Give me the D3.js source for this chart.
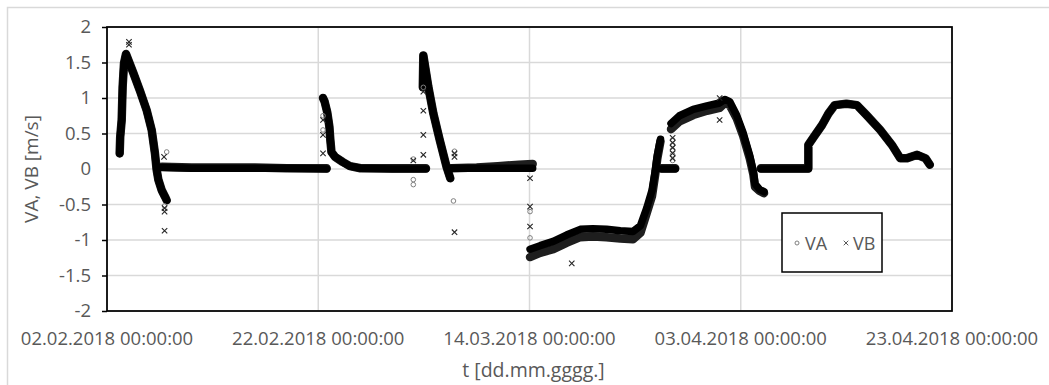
<!DOCTYPE html>
<html>
<head>
<meta charset="utf-8">
<script src="https://cdn.jsdelivr.net/npm/d3@7"></script>
<style>
  body { margin: 0; background: #fff; }
  svg text { font-family: "Open Sans", sans-serif; fill: #595959; }
</style>
</head>
<body>
<svg id="chart" width="1049" height="385"></svg>
<script>
// Axis settings
const startDate = '2018-02-02';
const endDate = '2018-04-23';
const xTickDates = ['2018-02-02', '2018-02-22', '2018-03-14', '2018-04-03', '2018-04-23'];
const yTicks = [-2, -1.5, -1, -0.5, 0, 0.5, 1, 1.5, 2];
const seriesNames = ['VA', 'VB'];

// Dense parts of the scatter, as [days after 02.02.2018, value]; null breaks a run
const vaTrace = [
  [1.2, 0.22], [1.25, 0.45], [1.39, 0.69], [1.48, 1.16], [1.61, 1.49], [1.8, 1.62], [1.9, 1.58],
  [2.5, 1.35], [3.1, 1.11], [3.75, 0.83], [4.23, 0.55], [4.54, 0.22], [4.7, -0.01], [4.86, -0.15],
  [5.18, -0.3], [5.49, -0.39], [5.65, -0.44], null,
  [5.2, 0.03], [8, 0.02], [11, 0.02], [14, 0.02], [17, 0.01], [20.8, 0.01], null,
  [20.45, 1.0], [20.6, 0.95], [20.85, 0.8], [21.05, 0.6], [21.15, 0.4], [21.25, 0.24], [21.6, 0.17],
  [22.3, 0.1], [23, 0.04], [24, 0.01], [27, 0.01], [30.2, 0.01], null,
  [29.9, 1.15], [29.95, 1.6], [30.42, 1.16], [30.9, 0.78], [31.5, 0.41], [32.15, 0.03], [32.5, -0.13], null,
  [32.6, 0.01], [35, 0.02], [37, 0.04], [39, 0.06], [40.3, 0.07], null,
  [40.05, -1.24], [41, -1.18], [42.25, -1.13], [43.5, -1.04], [44.8, -0.96], [46, -0.95], [47.3, -0.96],
  [48.6, -0.98], [49.8, -0.99], [50.5, -0.9], [51.1, -0.62], [51.6, -0.38], [51.9, -0.08], [52.1, 0.15],
  [52.4, 0.39], null,
  [52.5, 0.01], [53.8, 0.01], null,
  [53.4, 0.56], [54.2, 0.67], [55.5, 0.76], [56.8, 0.82], [58, 0.86], [58.5, 0.93], [58.95, 0.9],
  [59.6, 0.72], [60.2, 0.48], [60.85, 0.15], [61.2, -0.08], [61.35, -0.25], [61.8, -0.31], [62.2, -0.34], null,
  [61.9, 0.01], [64, 0.01], [66.4, 0.01], [66.4, 0.34], [66.9, 0.45], [67.7, 0.62], [68.3, 0.78],
  [68.9, 0.9], [70, 0.92], [71, 0.9], [71.9, 0.76], [73.2, 0.55], [74.3, 0.34], [75.1, 0.15],
  [75.7, 0.15], [76.7, 0.2], [77.5, 0.15], [77.9, 0.06]
];

const vbTrace = [
  [1.2, 0.22], [1.25, 0.45], [1.39, 0.69], [1.48, 1.16], [1.61, 1.49], [1.8, 1.62], [1.9, 1.58],
  [2.5, 1.35], [3.1, 1.11], [3.75, 0.83], [4.23, 0.55], [4.54, 0.22], [4.7, -0.01], [4.86, -0.15],
  [5.18, -0.3], [5.49, -0.39], [5.65, -0.44], null,
  [5.2, 0.02], [8, 0.01], [11, 0.01], [14, 0.01], [17, 0.01], [20.8, 0.0], null,
  [20.45, 1.0], [20.6, 0.95], [20.85, 0.8], [21.05, 0.6], [21.15, 0.4], [21.25, 0.24], [21.6, 0.17],
  [22.3, 0.1], [23, 0.04], [24, 0.01], [27, 0.0], [30.2, 0.0], null,
  [29.9, 1.15], [29.95, 1.6], [30.42, 1.16], [30.9, 0.78], [31.5, 0.41], [32.15, 0.03], [32.5, -0.13], null,
  [32.6, 0.01], [35, 0.01], [37, 0.01], [39, 0.01], [40.3, 0.01], null,
  [40.05, -1.13], [41, -1.08], [42.25, -1.02], [43.5, -0.93], [44.8, -0.85], [46, -0.84], [47.3, -0.85],
  [48.6, -0.87], [49.8, -0.88], [50.5, -0.8], [51.1, -0.55], [51.6, -0.3], [51.9, -0.03], [52.1, 0.19],
  [52.4, 0.42], null,
  [52.5, 0.0], [53.8, 0.0], null,
  [53.4, 0.64], [54.2, 0.75], [55.5, 0.84], [56.8, 0.89], [58, 0.93], [58.5, 0.98], [58.95, 0.95],
  [59.6, 0.76], [60.2, 0.52], [60.85, 0.19], [61.2, -0.04], [61.35, -0.21], [61.8, -0.29], [62.2, -0.32], null,
  [61.9, 0.0], [64, 0.0], [66.4, 0.0], [66.4, 0.34], [66.9, 0.45], [67.7, 0.62], [68.3, 0.78],
  [68.9, 0.9], [70, 0.92], [71, 0.9], [71.9, 0.76], [73.2, 0.55], [74.3, 0.34], [75.1, 0.15],
  [75.7, 0.15], [76.7, 0.2], [77.5, 0.15], [77.9, 0.06]
];

// Isolated points away from the dense runs
const vaOutliers = [
  [5.65, 0.24], [5.45, -0.52], [20.45, 0.75], [20.45, 0.55], [29.0, 0.14], [29.0, -0.15], [29.0, -0.22],
  [29.95, 1.15], [32.8, -0.45], [32.9, 0.25], [40.05, -0.6], [40.05, -0.97],
  [53.55, 0.12], [53.55, 0.2], [53.55, 0.27], [53.55, 0.34], [53.55, 0.41]
];

const vbOutliers = [
  [2.08, 1.79], [2.08, 1.75], [5.4, 0.17], [5.45, -0.55], [5.45, -0.6], [5.45, -0.87],
  [20.45, 0.69], [20.45, 0.48], [20.45, 0.22], [29.0, 0.12], [29.95, 1.09], [29.95, 0.82],
  [29.95, 0.48], [29.95, 0.2], [32.9, 0.22], [32.9, 0.17], [32.9, -0.89], [40.05, -0.13],
  [40.05, -0.53], [40.05, -0.81], [44.0, -1.33], [53.55, 0.15], [53.55, 0.22], [53.55, 0.3],
  [53.55, 0.37], [53.55, 0.44], [58.0, 0.69], [58.0, 1.0]
];

const svg = d3.select('#chart');

const plot = {left: 107, right: 952, top: 27, bottom: 311};
const dayMs = 864e5;
const toDate = (day) => new Date(Date.parse(startDate) + day * dayMs);

const xScale = d3.scaleUtc()
  .domain([new Date(startDate), new Date(endDate)])
  .range([plot.left, plot.right]);
const yScale = d3.scaleLinear()
  .domain([yTicks[0], yTicks[yTicks.length - 1]])
  .range([plot.bottom, plot.top]);

// Chart area frame (only top and left edge are inside the picture)
svg.append('path')
  .attr('d', 'M7.5,385V7.5H1049')
  .attr('fill', 'none')
  .attr('stroke', '#d9d9d9')
  .attr('stroke-width', 1.5);

// Gridlines
svg.append('g')
  .selectAll('line')
  .data(yTicks)
  .enter().append('line')
  .attr('x1', plot.left).attr('x2', plot.right)
  .attr('y1', (d) => yScale(d)).attr('y2', (d) => yScale(d))
  .attr('stroke', '#d9d9d9')
  .attr('stroke-width', 1.5);
svg.append('g')
  .selectAll('line')
  .data(xTickDates)
  .enter().append('line')
  .attr('x1', (d) => xScale(new Date(d))).attr('x2', (d) => xScale(new Date(d)))
  .attr('y1', plot.top).attr('y2', plot.bottom)
  .attr('stroke', '#d9d9d9')
  .attr('stroke-width', 1.5);

// Y axis
const leftAxis = d3.axisLeft(yScale)
  .tickValues(yTicks)
  .tickSize(5)
  .tickPadding(11)
  .tickFormat((d) => String(d));
const yAxisG = svg.append('g')
  .attr('transform', `translate(${plot.left},0)`)
  .call(leftAxis);
yAxisG.select('.domain').remove();
yAxisG.selectAll('line').attr('stroke', '#000').attr('stroke-width', 1.5)
  .filter((d) => d === 0).remove();
yAxisG.selectAll('text')
  .style('font-size', '18.5px')
  .style('font-family', '"Open Sans", sans-serif')
  .attr('fill', '#595959');

// X axis labels
const xFormat = d3.utcFormat('%d.%m.%Y %H:%M:%S');
svg.append('g')
  .selectAll('text')
  .data(xTickDates)
  .enter().append('text')
  .attr('x', (d) => xScale(new Date(d)))
  .attr('y', 345)
  .attr('text-anchor', 'middle')
  .style('font-size', '18.5px')
  .text((d) => xFormat(new Date(d)));

// Axis titles
svg.append('text')
  .attr('transform', `translate(38,${(plot.top + plot.bottom) / 2}) rotate(-90)`)
  .attr('text-anchor', 'middle')
  .style('font-size', '19px')
  .text('VA, VB [m/s]');
svg.append('text')
  .attr('x', (plot.left + plot.right) / 2 + 4)
  .attr('y', 377)
  .attr('text-anchor', 'middle')
  .style('font-size', '19.5px')
  .text('t [dd.mm.gggg.]');

// Dense runs of both series
const line = d3.line()
  .defined((d) => d !== null)
  .x((d) => xScale(toDate(d[0])))
  .y((d) => yScale(d[1]));

svg.append('path')
  .datum(vaTrace)
  .attr('d', line)
  .attr('fill', 'none')
  .attr('stroke', '#1e1e1e')
  .attr('stroke-width', 8.5)
  .attr('stroke-linecap', 'round')
  .attr('stroke-linejoin', 'round');
svg.append('path')
  .datum(vbTrace)
  .attr('d', line)
  .attr('fill', 'none')
  .attr('stroke', '#000')
  .attr('stroke-width', 7.5)
  .attr('stroke-linecap', 'round')
  .attr('stroke-linejoin', 'round');

// Isolated markers
svg.append('g')
  .selectAll('circle')
  .data(vaOutliers)
  .enter().append('circle')
  .attr('cx', (d) => xScale(toDate(d[0])))
  .attr('cy', (d) => yScale(d[1]))
  .attr('r', 2.3)
  .attr('fill', 'none')
  .attr('stroke', '#808080')
  .attr('stroke-width', 1);

const crossPath = 'M-2.7,-2.7L2.7,2.7M-2.7,2.7L2.7,-2.7';
svg.append('g')
  .selectAll('path')
  .data(vbOutliers)
  .enter().append('path')
  .attr('transform', (d) => `translate(${xScale(toDate(d[0]))},${yScale(d[1])})`)
  .attr('d', crossPath)
  .attr('fill', 'none')
  .attr('stroke', '#262626')
  .attr('stroke-width', 1.1);

// Plot area border
svg.append('rect')
  .attr('x', plot.left).attr('y', plot.top)
  .attr('width', plot.right - plot.left).attr('height', plot.bottom - plot.top)
  .attr('fill', 'none')
  .attr('stroke', '#000')
  .attr('stroke-width', 1.75);

// Legend
const legend = svg.append('g').attr('transform', 'translate(782,213)');
legend.append('rect')
  .attr('width', 100).attr('height', 59)
  .attr('fill', '#fff')
  .attr('stroke', '#000')
  .attr('stroke-width', 1.5);
legend.append('circle')
  .attr('cx', 15).attr('cy', 30).attr('r', 2)
  .attr('fill', 'none').attr('stroke', '#808080').attr('stroke-width', 1);
legend.append('text')
  .attr('x', 23).attr('y', 36.5)
  .style('font-size', '18px')
  .text(seriesNames[0]);
legend.append('path')
  .attr('transform', 'translate(64,30)')
  .attr('d', 'M-2.3,-2.3L2.3,2.3M-2.3,2.3L2.3,-2.3')
  .attr('stroke', '#595959').attr('stroke-width', 1);
legend.append('text')
  .attr('x', 71).attr('y', 36.5)
  .style('font-size', '18px')
  .text(seriesNames[1]);
</script>
</body>
</html>
